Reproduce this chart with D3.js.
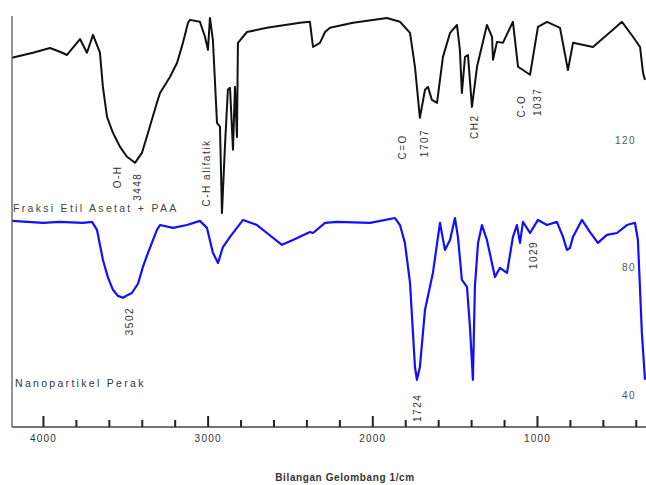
<!DOCTYPE html>
<html>
<head>
<meta charset="utf-8">
<script src="https://cdn.jsdelivr.net/npm/d3@7"></script>
</head>
<body style="margin:0">
<svg id="chart" width="646" height="485" font-family="Liberation Sans, Arial, sans-serif"></svg>
<script>
// wavenumber (1/cm), transmittance (%T)
var fraksiWave = [4188, 4061, 3957, 3897, 3854, 3775, 3733, 3696, 3654, 3636, 3611, 3575, 3532, 3490, 3441, 3399,
    3362, 3308, 3289, 3229, 3186, 3150, 3119, 3107, 3047, 3016, 2998, 2986, 2968, 2943, 2925, 2913, 2895, 2877,
    2864, 2846, 2834, 2822, 2816, 2761, 2640, 2439, 2379, 2360, 2318, 2287, 2257, 2117, 1911, 1832, 1771, 1741,
    1711, 1680, 1662, 1638, 1607, 1571, 1528, 1486, 1468, 1456, 1437, 1419, 1395, 1364, 1304, 1273, 1267, 1243,
    1207, 1146, 1115, 1042, 994, 939, 860, 812, 781, 660, 539, 484, 417, 374, 356, 344];
var fraksiT = [145.4, 147.0, 148.5, 147.3, 146.3, 151.3, 147.0, 152.6, 147.0, 136.3, 126.9, 121.9, 117.5, 114.4, 112.5, 115.6,
    121.9, 131.3, 134.4, 139.4, 143.8, 150.1, 156.4, 157.3, 156.7, 152.0, 147.9, 157.9, 151.0, 125.0, 123.8, 96.8, 117.5, 135.4,
    136.0, 116.6, 136.3, 120.6, 150.1, 153.5, 154.8, 156.4, 156.7, 148.8, 150.1, 153.5, 154.8, 156.4, 157.9, 156.7, 153.2, 142.6,
    126.6, 135.4, 136.3, 132.2, 131.3, 145.7, 153.2, 155.7, 147.9, 134.4, 145.7, 146.3, 130.0, 142.6, 155.7, 152.0, 144.8, 150.4,
    150.1, 156.7, 142.6, 140.1, 155.1, 156.7, 154.8, 141.6, 150.1, 148.8, 154.2, 156.7, 152.0, 148.8, 140.7, 138.5];

var nanoWave = [4188, 4000, 3897, 3757, 3702, 3672, 3636, 3605, 3575, 3545, 3514, 3484, 3460, 3423, 3393, 3362, 3332,
    3308, 3289, 3211, 3126, 3047, 3004, 2968, 2937, 2907, 2864, 2785, 2700, 2640, 2549, 2482, 2379, 2360, 2287, 2215,
    2014, 1862, 1832, 1802, 1771, 1741, 1729, 1711, 1680, 1632, 1589, 1559, 1528, 1498, 1480, 1456, 1425, 1407, 1389,
    1377, 1358, 1334, 1304, 1255, 1225, 1182, 1146, 1122, 1103, 1085, 1042, 994, 939, 879, 842, 818, 800, 781, 727,
    678, 630, 575, 514, 454, 405, 387, 363, 344];
var nanoT = [94.3, 93.7, 94.0, 93.7, 94.0, 91.5, 82.1, 76.5, 72.7, 70.8, 70.2, 71.1, 71.7, 74.6, 79.9, 84.3, 88.3,
    91.5, 93.0, 92.1, 93.0, 94.3, 92.1, 84.3, 81.1, 86.1, 89.3, 94.6, 93.0, 90.5, 86.8, 88.3, 90.8, 90.5, 93.7, 94.0,
    93.7, 95.2, 93.0, 87.4, 74.9, 48.5, 44.5, 48.5, 66.4, 78.0, 93.7, 85.2, 88.3, 95.2, 89.3, 75.8, 73.6, 61.1, 44.5,
    73.6, 87.4, 93.0, 88.3, 76.7, 79.6, 78.0, 89.3, 93.0, 87.4, 94.0, 90.5, 94.6, 93.0, 94.0, 89.3, 85.2, 85.8, 89.3, 94.6,
    90.8, 87.4, 89.9, 90.5, 93.0, 93.7, 88.3, 59.2, 44.5];

var xMajorTicks = [4000, 3000, 2000, 1000];
var xMinorTicks = [3800, 3600, 3400, 3200, 2800, 2600, 2400, 2200, 1800, 1600, 1400, 1200, 800, 600, 400];
var yTickLabels = [120, 80, 40];

// peak annotations: text, wavenumber, %T of label centre
var peakText = ['O-H', '3448', 'C-H alifatik', 'C=O', '1707', 'CH2', 'C-O', '1037', '3502', '1029', '1724'];
var peakWave = [3545, 3423, 3004, 1814, 1680, 1377, 1091, 994, 3472, 1024, 1723];
var peakT = [108.1, 105.0, 109.3, 117.5, 118.7, 123.8, 130.3, 131.6, 62.9, 83.6, 35.7];

var seriesNames = ['Fraksi Etil Asetat + PAA', 'Nanopartikel Perak'];

var x = d3.scaleLinear().domain([4188, 344]).range([12, 645]);
var y = d3.scaleLinear().domain([29.7, 158.2]).range([427, 17]);

var svg = d3.select('#chart');

var line = d3.line()
    .x(d => x(d[0]))
    .y(d => y(d[1]));

var fraksi = fraksiWave.map((w, i) => [w, fraksiT[i]]);
var nano = nanoWave.map((w, i) => [w, nanoT[i]]);

svg.append('path')
    .attr('d', line(fraksi))
    .attr('fill', 'none')
    .attr('stroke', '#111')
    .attr('stroke-width', 2)
    .attr('stroke-linejoin', 'round');

svg.append('path')
    .attr('d', line(nano))
    .attr('fill', 'none')
    .attr('stroke', '#1010ff')
    .attr('stroke-width', 2.2)
    .attr('stroke-linejoin', 'round');

// axis frame
svg.append('line')
    .attr('x1', 12).attr('x2', 646)
    .attr('y1', 427).attr('y2', 427)
    .attr('stroke', '#444').attr('stroke-width', 1.6);
svg.append('line')
    .attr('x1', 12).attr('x2', 12)
    .attr('y1', 16).attr('y2', 427)
    .attr('stroke', '#666').attr('stroke-width', 1.4);

// inward ticks via d3 axes
var minorAxis = svg.append('g')
    .attr('transform', 'translate(0, 427)')
    .call(d3.axisBottom(x).tickValues(xMinorTicks).tickSizeInner(-7).tickSizeOuter(0).tickFormat(''));
minorAxis.select('.domain').remove();
minorAxis.selectAll('.tick line').attr('stroke', '#222').attr('stroke-width', 2);

var majorAxis = svg.append('g')
    .attr('transform', 'translate(0, 427)')
    .call(d3.axisBottom(x).tickValues(xMajorTicks).tickSizeInner(-11).tickSizeOuter(0).tickFormat(d3.format('d')));
majorAxis.select('.domain').remove();
majorAxis.selectAll('.tick line').attr('stroke', '#222').attr('stroke-width', 2);
majorAxis.selectAll('.tick text')
    .attr('y', 15)
    .attr('dy', 0)
    .attr('font-family', 'Liberation Sans, Arial, sans-serif')
    .attr('font-size', 10)
    .attr('letter-spacing', 1.2)
    .attr('fill', '#333');

svg.append('text')
    .attr('x', 345)
    .attr('y', 481)
    .attr('text-anchor', 'middle')
    .attr('font-size', 10)
    .attr('font-weight', 'bold')
    .attr('letter-spacing', 0.6)
    .attr('fill', '#333')
    .text('Bilangan Gelombang 1/cm');

svg.selectAll('text.yl')
    .data(yTickLabels)
    .enter()
    .append('text')
    .attr('class', 'yl')
    .attr('x', 636)
    .attr('y', d => y(d) + 2)
    .attr('text-anchor', 'end')
    .attr('dominant-baseline', 'middle')
    .attr('font-size', 10)
    .attr('letter-spacing', 1.4)
    .attr('fill', '#555')
    .text(d => d);

svg.selectAll('text.pk')
    .data(peakText)
    .enter()
    .append('text')
    .attr('class', 'pk')
    .attr('transform', (d, i) => `translate(${x(peakWave[i])}, ${y(peakT[i])}) rotate(-90)`)
    .attr('text-anchor', 'middle')
    .attr('dominant-baseline', 'central')
    .attr('font-size', 10)
    .attr('letter-spacing', 1.5)
    .attr('fill', '#333')
    .text(d => d);

// series names
svg.append('text')
    .attr('x', 13)
    .attr('y', 212)
    .attr('font-size', 10.5)
    .attr('letter-spacing', 2.3)
    .attr('fill', '#444')
    .text(seriesNames[0]);

svg.append('text')
    .attr('x', 15)
    .attr('y', 387)
    .attr('font-size', 10.5)
    .attr('letter-spacing', 2.3)
    .attr('fill', '#334')
    .text(seriesNames[1]);
</script>
</body>
</html>
